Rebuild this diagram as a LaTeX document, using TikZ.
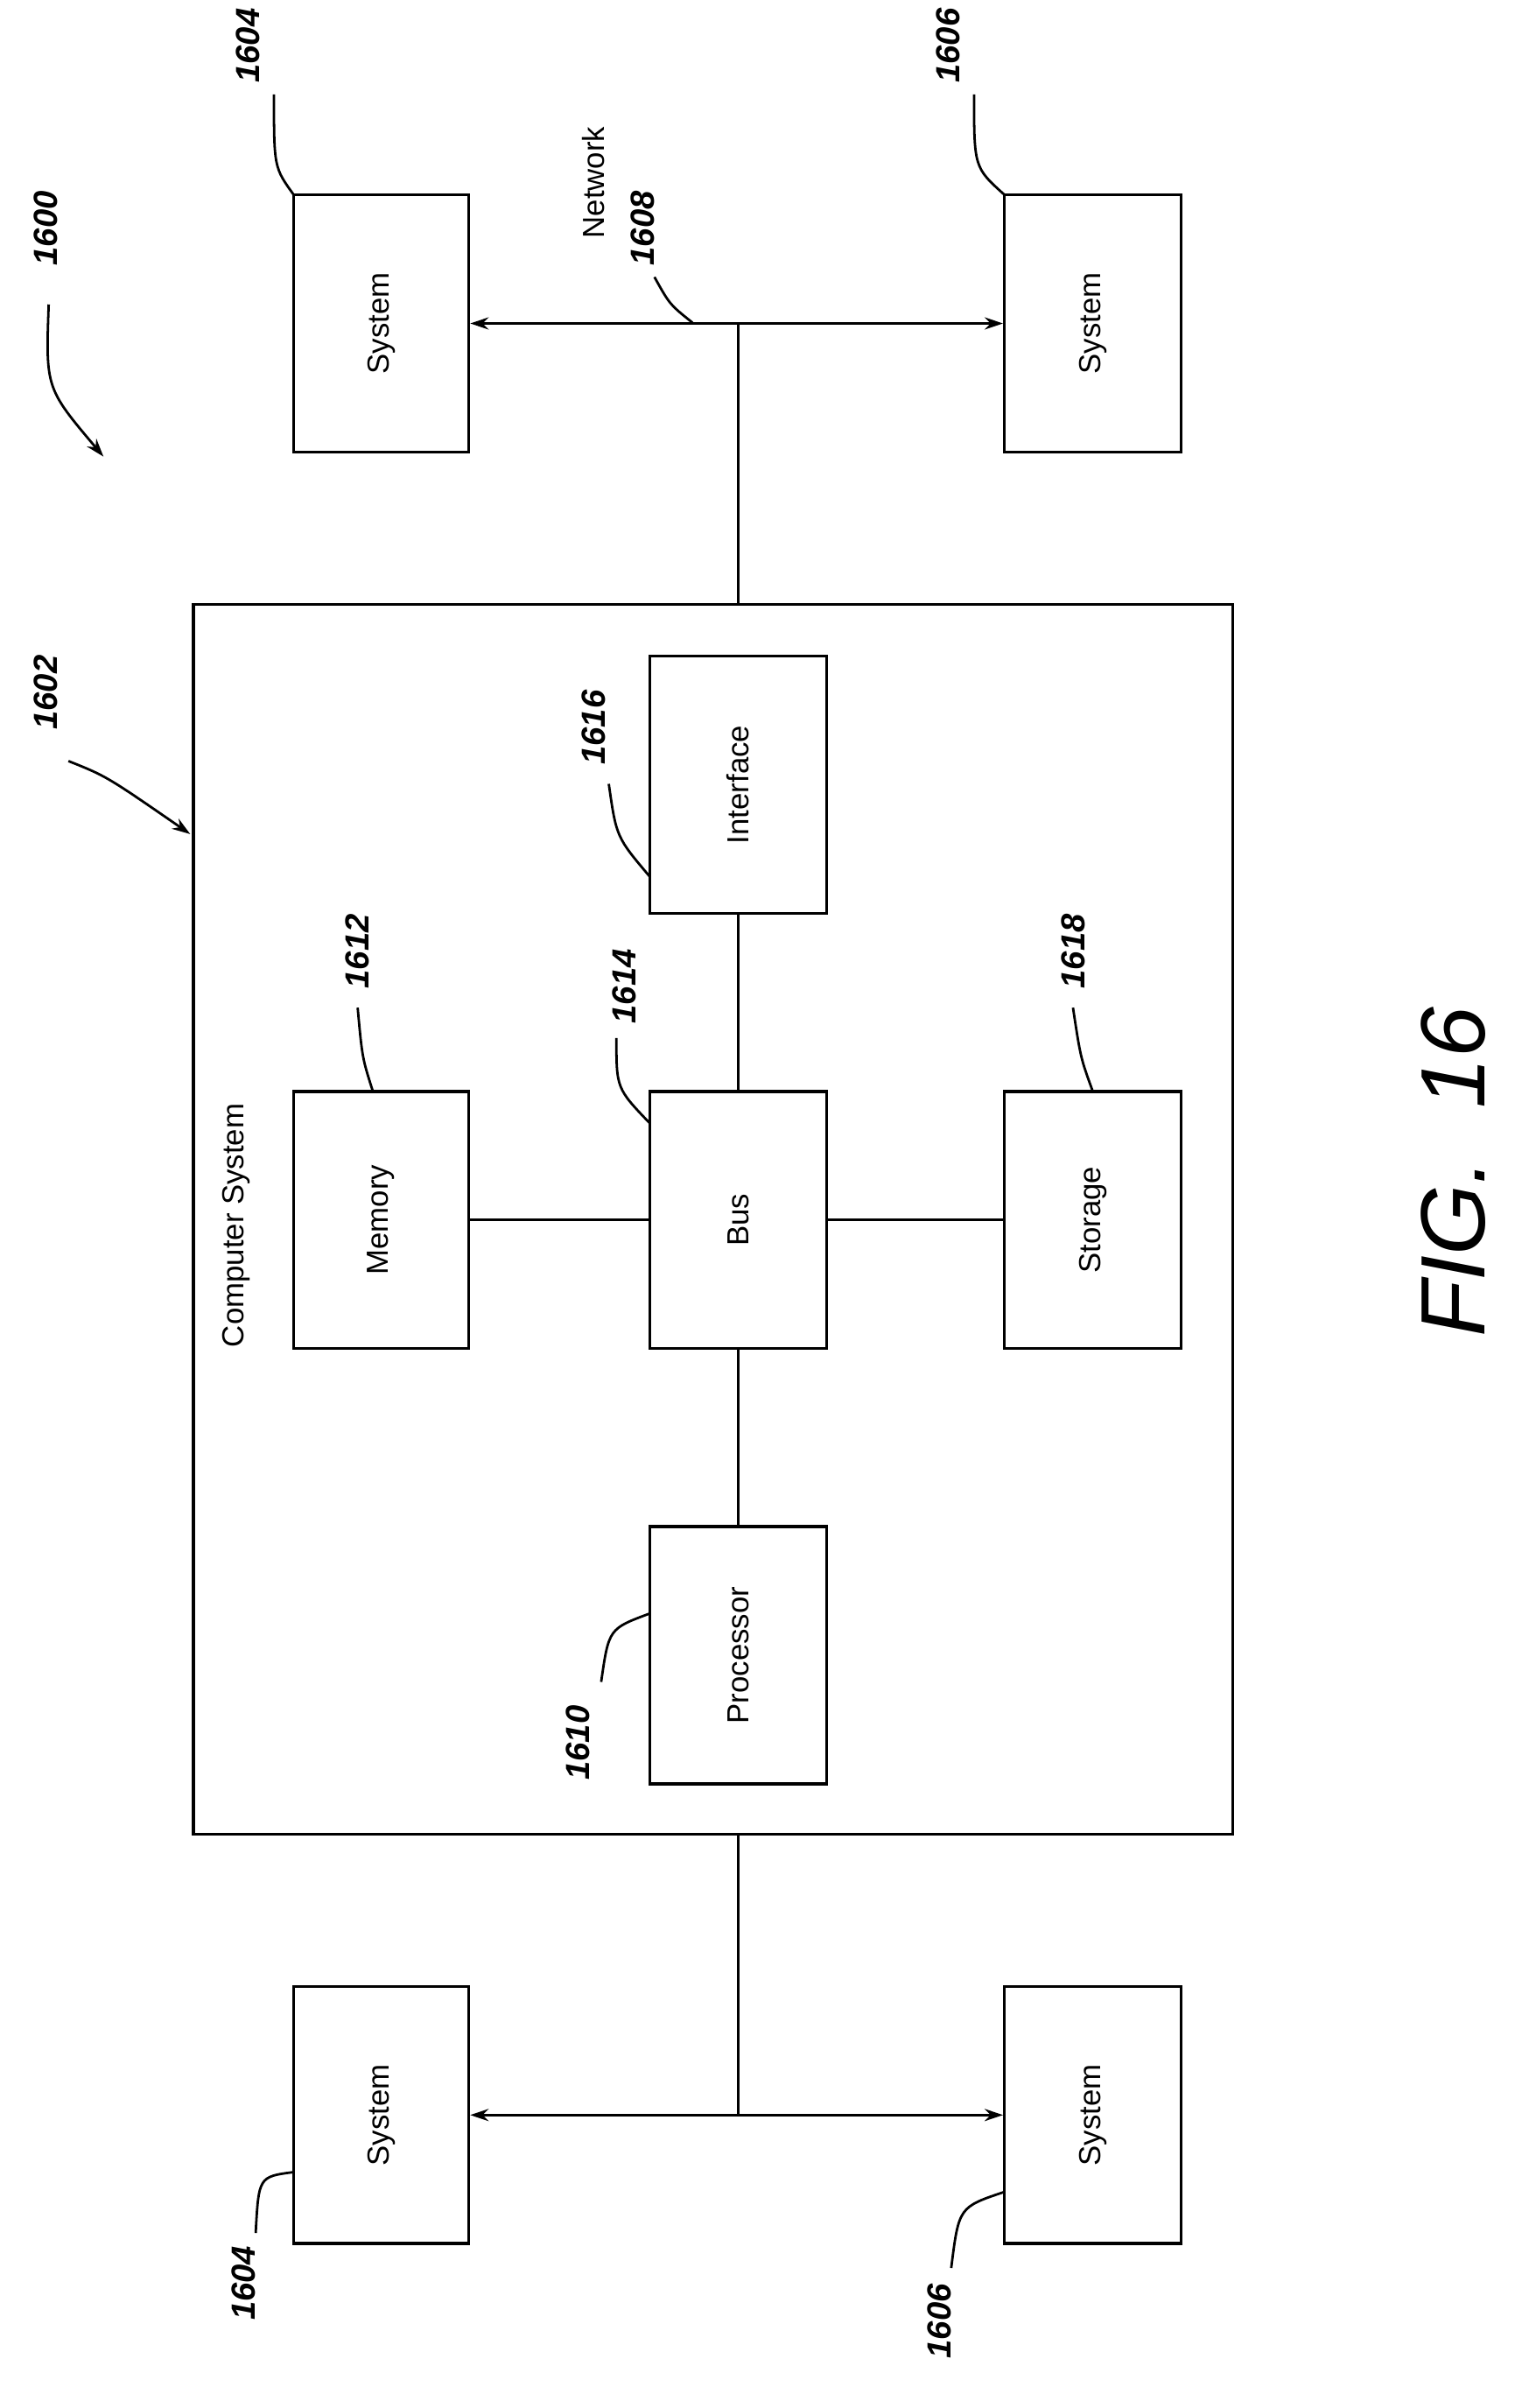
\documentclass[tikz,border=0pt]{standalone}
\usepackage{fontspec}
\setmainfont{Liberation Sans}
\usetikzlibrary{arrows.meta}
\begin{document}
\begin{tikzpicture}[x=0.5pt,y=-0.5pt,
  box/.style={draw,line width=1pt,inner sep=0pt},
  bt/.style={rotate=90,font=\fontsize{10}{12}\selectfont},
  lab/.style={rotate=90,font=\fontsize{11}{13}\selectfont\bfseries\itshape},
  ln/.style={line width=0.9pt},
  ar/.style={ln,{Stealth[length=6pt,width=4pt]}-{Stealth[length=6pt,width=4pt]}},
  lead/.style={line width=0.8pt},
  lar/.style={lead,-{Stealth[length=6pt,width=4pt]}}]
\useasboundingbox (0,0) rectangle (1000,1582);
% boxes
\node[box,minimum width=57.5pt,minimum height=84.5pt] (s1) at (250.5,212.5) {};
\node[bt] at (s1) {System};
\node[box,minimum width=58pt,minimum height=84.5pt] (s2) at (718,212.5) {};
\node[bt] at (s2) {System};
\node[box,minimum width=341.5pt,minimum height=404pt] (cs) at (468.5,801) {};
\node[bt] at (155,805) {Computer System};
\node[box,minimum width=58pt,minimum height=84.5pt] (int) at (485,515.5) {};
\node[bt] at (int) {Interface};
\node[box,minimum width=57.5pt,minimum height=84.5pt] (mem) at (250.5,801.5) {};
\node[bt] at (mem) {Memory};
\node[box,minimum width=58pt,minimum height=84.5pt] (bus) at (485,801.5) {};
\node[bt] at (bus) {Bus};
\node[box,minimum width=58pt,minimum height=84.5pt] (sto) at (718,801.5) {};
\node[bt] at (sto) {Storage};
\node[box,minimum width=58pt,minimum height=84.5pt] (pro) at (485,1087.5) {};
\node[bt] at (pro) {Processor};
\node[box,minimum width=57.5pt,minimum height=84.5pt] (s3) at (250.5,1389.5) {};
\node[bt] at (s3) {System};
\node[box,minimum width=58pt,minimum height=84.5pt] (s4) at (718,1389.5) {};
\node[bt] at (s4) {System};
% connectors
\coordinate (n1) at (485,212);
\coordinate (n2) at (485,1390);
\draw[ar] (s1.east) -- (s2.west);
\draw[ln] (n1) -- (cs.north -| n1);
\draw[ar] (s3.east) -- (s4.west);
\draw[ln] (n2) -- (cs.south -| n2);
\draw[ln] (mem) -- (bus) -- (sto);
\draw[ln] (int) -- (bus) -- (pro);
% labels
\node[rotate=90,font=\fontsize{10}{12}\selectfont] at (390,120) {Network};
\node[lab] (l1608) at (422,150) {1608};
\draw[lead] (430,182) .. controls (440,200) .. (455,212);
\node[lab] at (163,30) {1604};
\draw[lead] (180,62) .. controls (180,110) .. (193,128);
\node[lab] at (623,30) {1606};
\draw[lead] (640,62) .. controls (640,110) .. (660,128);
\node[lab] at (30,150) {1600};
\draw[lar] (32,200) .. controls (30,255) .. (68,300);
\node[lab] at (30,455) {1602};
\draw[lar] (45,500) .. controls (70,510) .. (125,548);
\node[lab] at (390,478) {1616};
\draw[lead] (400,515) .. controls (405,550) .. (427,576);
\node[lab] at (235,625) {1612};
\draw[lead] (235,662) .. controls (238,695) .. (245,717);
\node[lab] at (410,648) {1614};
\draw[lead] (405,682) .. controls (405,715) .. (427,738);
\node[lab] at (705,625) {1618};
\draw[lead] (705,662) .. controls (710,695) .. (718,717);
\node[lab] at (380,1145) {1610};
\draw[lead] (395,1105) .. controls (400,1070) .. (427,1060);
\node[lab] at (160,1500) {1604};
\draw[lead] (168,1467) .. controls (170,1430) .. (193,1427);
\node[lab] at (617,1525) {1606};
\draw[lead] (625,1490) .. controls (630,1450) .. (660,1440);
\node[rotate=90,font=\fontsize{30}{34}\selectfont\itshape] at (955,770) {FIG.~~16};
\end{tikzpicture}
\end{document}
